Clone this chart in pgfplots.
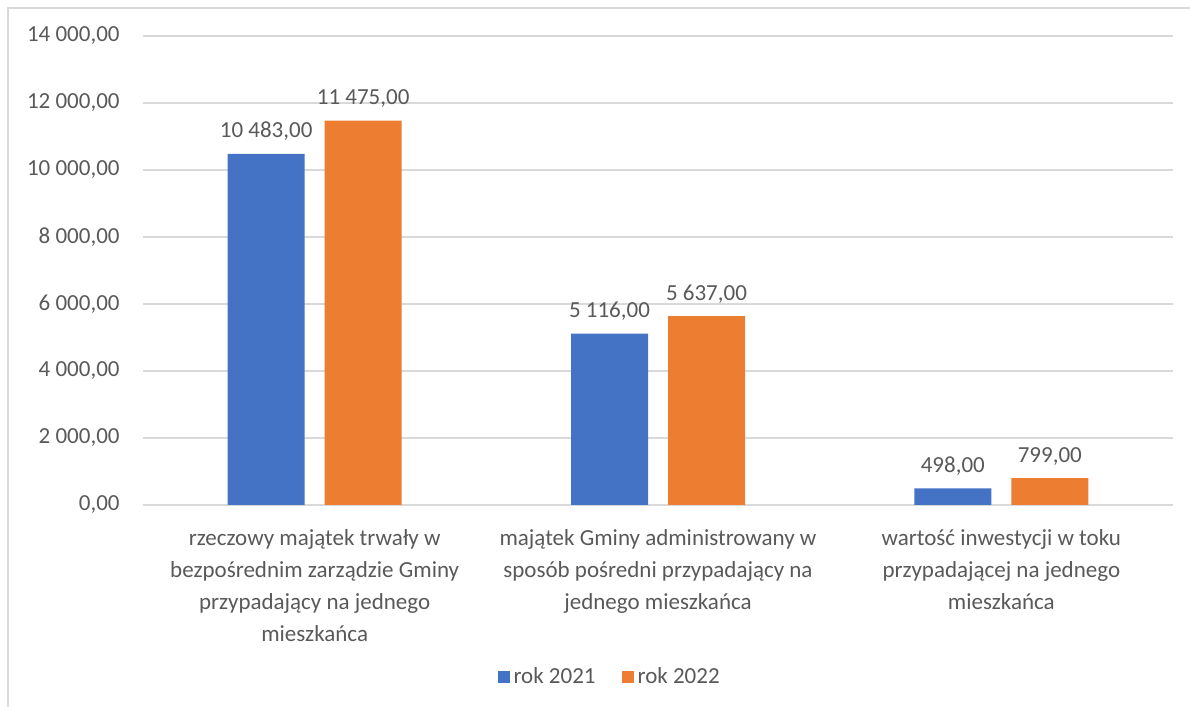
\documentclass[border=0pt]{standalone}
\usepackage{fontspec}
\setmainfont{Carlito}
\usepackage{pgfplots}
\pgfplotsset{compat=1.18}
\definecolor{blu}{HTML}{4472C4}
\definecolor{ora}{HTML}{ED7D31}
\definecolor{txt}{HTML}{595959}
\definecolor{grd}{HTML}{D9D9D9}
\newcommand{\cf}{\fontsize{11.5}{16}\selectfont}

\begin{document}
\begin{tikzpicture}
\useasboundingbox (0pt,0pt) rectangle (595pt,353.5pt);
\draw[grd, line width=0.75pt] (4pt,-10pt) -- (4pt,349.5pt) -- (600pt,349.5pt);
\begin{axis}[
    at={(71.5pt,101pt)}, anchor=south west,
    scale only axis,
    width=515pt, height=234.5pt,
    xmin=-0.5, xmax=2.5,
    ymin=0, ymax=14000,
    ytick={0,2000,...,14000},
    xtick={0,1,2},
    xticklabels={
        {rzeczowy majątek trwały w\\bezpośrednim zarządzie Gminy\\przypadający na jednego\\mieszkańca},
        {majątek Gminy administrowany w\\sposób pośredni przypadający na\\jednego mieszkańca},
        {wartość inwestycji w toku\\przypadającej na jednego\\mieszkańca}},
    axis line style={draw=none},
    major tick length=0pt,
    ymajorgrids,
    grid style={grd, line width=1pt},
    tick label style={font=\cf, text=txt},
    yticklabel style={anchor=east, inner sep=0pt, xshift=-11.5pt},
    xticklabel style={align=center, anchor=north, inner sep=0pt, yshift=-12pt},
    /pgf/number format/.cd, fixed, fixed zerofill, precision=2,
        use comma, 1000 sep={\ }, assume math mode=true,
    /pgfplots/.cd,
    scaled y ticks=false,
    ybar,
    bar width=38.5pt,
    nodes near coords,
    nodes near coords style={font=\cf, text=txt, anchor=base, inner sep=0pt, yshift=8pt,
        /pgf/number format/.cd, fixed, fixed zerofill, precision=2,
        use comma, 1000 sep={\ }, assume math mode=true},
    legend columns=2,
    legend style={at={(0.454,-0.367)}, anchor=center, draw=none, fill=none,
        font=\cf, text=txt,
        /tikz/every even column/.append style={column sep=11pt}},
    legend image code/.code={\fill[#1] (-1pt,-3pt) rectangle (5pt,3pt);},
]
\addplot[fill=blu, draw=none, bar shift=-24.25pt] coordinates {
    (0, 10483)
    (1, 5116)
    (2, 498)
};
\addlegendentry{rok 2021}
\addplot[fill=ora, draw=none, bar shift=24.25pt] coordinates {
    (0, 11475)
    (1, 5637)
    (2, 799)
};
\addlegendentry{rok 2022}
\end{axis}
\end{tikzpicture}
\end{document}
